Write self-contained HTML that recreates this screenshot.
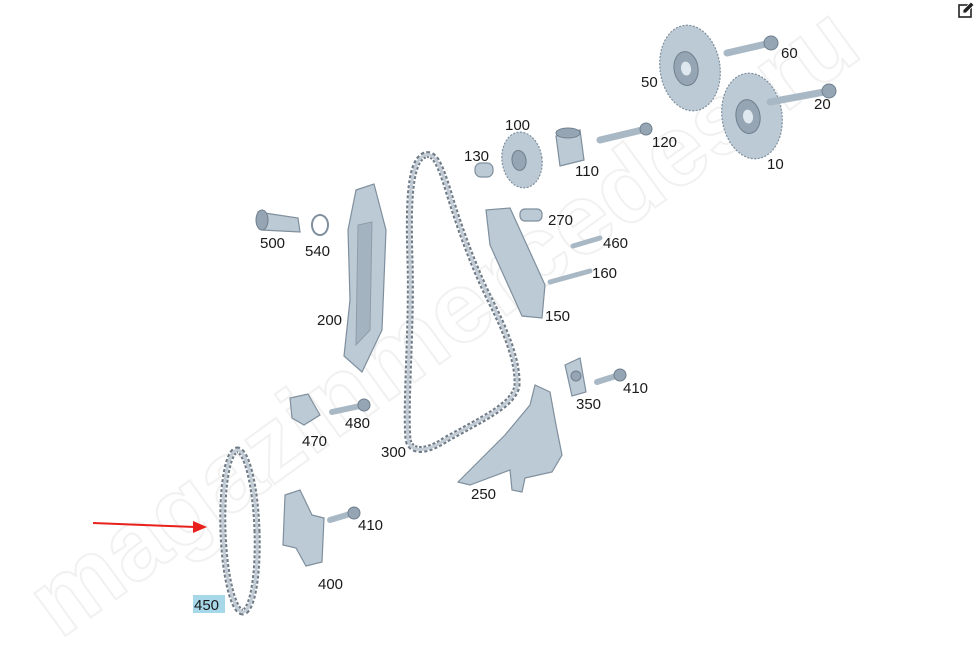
<!DOCTYPE html>
<html><head><meta charset="utf-8"><style>
html,body{margin:0;padding:0;background:#fff;width:976px;height:661px;overflow:hidden}
svg{display:block}
text{font-family:"Liberation Sans",sans-serif;font-size:15px;fill:#1a1a1a}
.p{fill:#bccad6;stroke:#7f8f9d;stroke-width:1.2}
.d{fill:#95a5b3;stroke:#6f7f8d;stroke-width:1}
.b{stroke:#a9b8c5;stroke-linecap:round}
.ch{fill:none;stroke:#6f7c88;stroke-width:7;stroke-dasharray:3 2}
.ch2{fill:none;stroke:#c3ccd4;stroke-width:3}
.wm{font-size:100px;fill:none;stroke:#f1f1f1;stroke-width:2;font-weight:bold}
</style></head><body>
<svg width="976" height="661" viewBox="0 0 976 661">
<text class="wm" x="0" y="0" transform="translate(60,640) rotate(-36)">magazinmercedes.ru</text>

<g transform="rotate(-8 690 68)">
<ellipse class="p" cx="690" cy="68" rx="30" ry="43" stroke-dasharray="2 1.5" stroke-width="3"/>
<ellipse class="d" cx="686" cy="68" rx="12" ry="17"/><ellipse fill="#e0e8ef" cx="686" cy="68" rx="5" ry="7"/></g>
<g transform="rotate(-8 752 116)">
<ellipse class="p" cx="752" cy="116" rx="30" ry="43" stroke-dasharray="2 1.5" stroke-width="3"/>
<ellipse class="d" cx="748" cy="116" rx="12" ry="17"/><ellipse fill="#e0e8ef" cx="748" cy="116" rx="5" ry="7"/></g>
<line class="b" x1="727" y1="53" x2="766" y2="44" stroke-width="7"/><circle class="d" cx="771" cy="43" r="7"/>
<line class="b" x1="770" y1="102" x2="824" y2="92" stroke-width="7"/><circle class="d" cx="829" cy="91" r="7"/>
<g transform="rotate(-8 522 160)"><ellipse class="p" cx="522" cy="160" rx="20" ry="28" stroke-dasharray="2 1.5" stroke-width="3"/><ellipse class="d" cx="519" cy="160" rx="7" ry="10"/></g>
<rect class="p" x="475" y="163" width="18" height="14" rx="6"/>
<path class="p" d="M556 136 L580 130 L584 160 L560 166 Z"/><ellipse class="d" cx="568" cy="133" rx="12" ry="5"/>
<line class="b" x1="600" y1="140" x2="642" y2="130" stroke-width="7"/><circle class="d" cx="646" cy="129" r="6"/>

<path class="ch" d="M425 155 C410 160 408 200 410 260 C412 330 405 400 408 440 C412 455 430 450 445 440 C480 420 515 405 517 385 C518 360 505 330 490 300 C475 270 460 230 448 190 C440 165 435 152 425 155 Z"/>
<path class="ch2" d="M425 155 C410 160 408 200 410 260 C412 330 405 400 408 440 C412 455 430 450 445 440 C480 420 515 405 517 385 C518 360 505 330 490 300 C475 270 460 230 448 190 C440 165 435 152 425 155 Z"/>

<path class="p" d="M356 190 L374 184 L386 230 L382 330 L362 372 L344 356 L350 300 L348 230 Z"/>
<path class="d" d="M358 225 L372 222 L370 330 L356 345 Z" opacity=".6"/>
<path class="p" d="M258 212 L298 218 L300 232 L262 230 Z"/><ellipse class="d" cx="262" cy="220" rx="6" ry="10"/>
<ellipse fill="none" stroke="#7f8f9d" stroke-width="2" cx="320" cy="225" rx="8" ry="10"/>
<path class="p" d="M486 210 L510 208 L545 285 L542 318 L522 316 L490 245 Z"/>
<rect class="p" x="520" y="209" width="22" height="12" rx="5"/>
<line class="b" x1="573" y1="246" x2="600" y2="238" stroke-width="5"/>
<line class="b" x1="550" y1="282" x2="590" y2="271" stroke-width="5"/>
<path class="p" d="M565 365 L580 358 L586 392 L572 396 Z"/><circle class="d" cx="576" cy="376" r="5"/>
<line class="b" x1="597" y1="382" x2="616" y2="376" stroke-width="6"/><circle class="d" cx="620" cy="375" r="6"/>
<path class="p" d="M458 482 L505 435 L530 405 L535 385 L550 392 L556 425 L562 455 L552 472 L525 478 L522 492 L512 490 L510 470 L470 485 Z"/>
<path class="p" d="M290 398 L308 394 L320 415 L304 425 L292 418 Z"/>
<line class="b" x1="332" y1="412" x2="360" y2="406" stroke-width="6"/><circle class="d" cx="364" cy="405" r="6"/>
<path class="p" d="M285 495 L300 490 L312 515 L324 518 L322 562 L306 566 L296 548 L283 545 Z"/>
<line class="b" x1="330" y1="520" x2="350" y2="514" stroke-width="6"/><circle class="d" cx="354" cy="513" r="6"/>
<ellipse class="ch" cx="240" cy="531" rx="17" ry="81" transform="rotate(-2 240 531)"/>
<ellipse class="ch2" cx="240" cy="531" rx="17" ry="81" transform="rotate(-2 240 531)"/>
<line x1="93" y1="523" x2="195" y2="527" stroke="#e8211c" stroke-width="2"/>
<path d="M207 527 L193 521 L193 533 Z" fill="#e8211c"/>
<rect x="959" y="5" width="12" height="12" fill="none" stroke="#222" stroke-width="1.6"/>
<path d="M963 13 L963 10 L971 2 L974 5 L966 13 Z" fill="#222" stroke="#fff" stroke-width=".8"/>

<text x="781" y="58">60</text><text x="641" y="87">50</text><text x="814" y="109">20</text>
<text x="505" y="130">100</text><text x="464" y="161">130</text><text x="652" y="147">120</text>
<text x="575" y="176">110</text><text x="767" y="169">10</text><text x="548" y="225">270</text>
<text x="603" y="248">460</text><text x="260" y="248">500</text><text x="305" y="256">540</text>
<text x="592" y="278">160</text><text x="545" y="321">150</text><text x="317" y="325">200</text>
<text x="623" y="393">410</text><text x="576" y="409">350</text><text x="345" y="428">480</text>
<text x="302" y="446">470</text><text x="381" y="457">300</text><text x="471" y="499">250</text>
<text x="358" y="530">410</text><text x="318" y="589">400</text>
<rect x="193" y="595" width="32" height="18" fill="#a6d8ea"/><text x="194" y="610">450</text>
</svg>
</body></html>
